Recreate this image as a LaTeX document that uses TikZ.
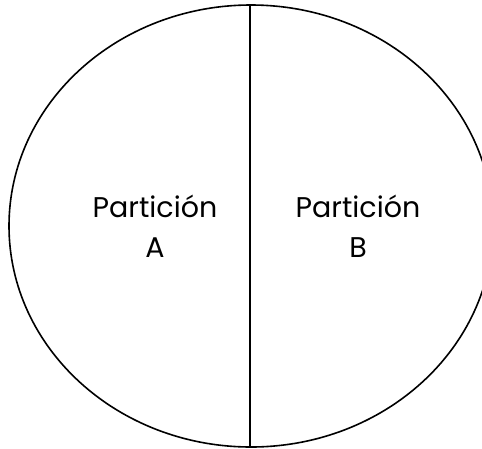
\documentclass[tikz,border=0pt]{standalone}
\usepackage{fontspec}
\setmainfont{Poppins}
\begin{document}
\begin{tikzpicture}[x=1pt,y=-1pt,
  outline/.style={draw=black,line width=1.6pt},
  label/.style={align=center,font=\fontsize{28.5}{40}\selectfont,inner sep=0pt}]
\useasboundingbox (0,0) rectangle (482,448);
\begin{scope}
\clip (0,0) rectangle (482,448);
\draw[outline] (251,226) ellipse [x radius=242, y radius=221];
\end{scope}
\coordinate (top) at (250,5);
\coordinate (bot) at (250,447);
\draw[outline] (top) -- (bot);
\node[label] (a) at (155,226) {Partición\\A};
\node[label] (b) at (358,226) {Partición\\B};
\end{tikzpicture}
\end{document}
